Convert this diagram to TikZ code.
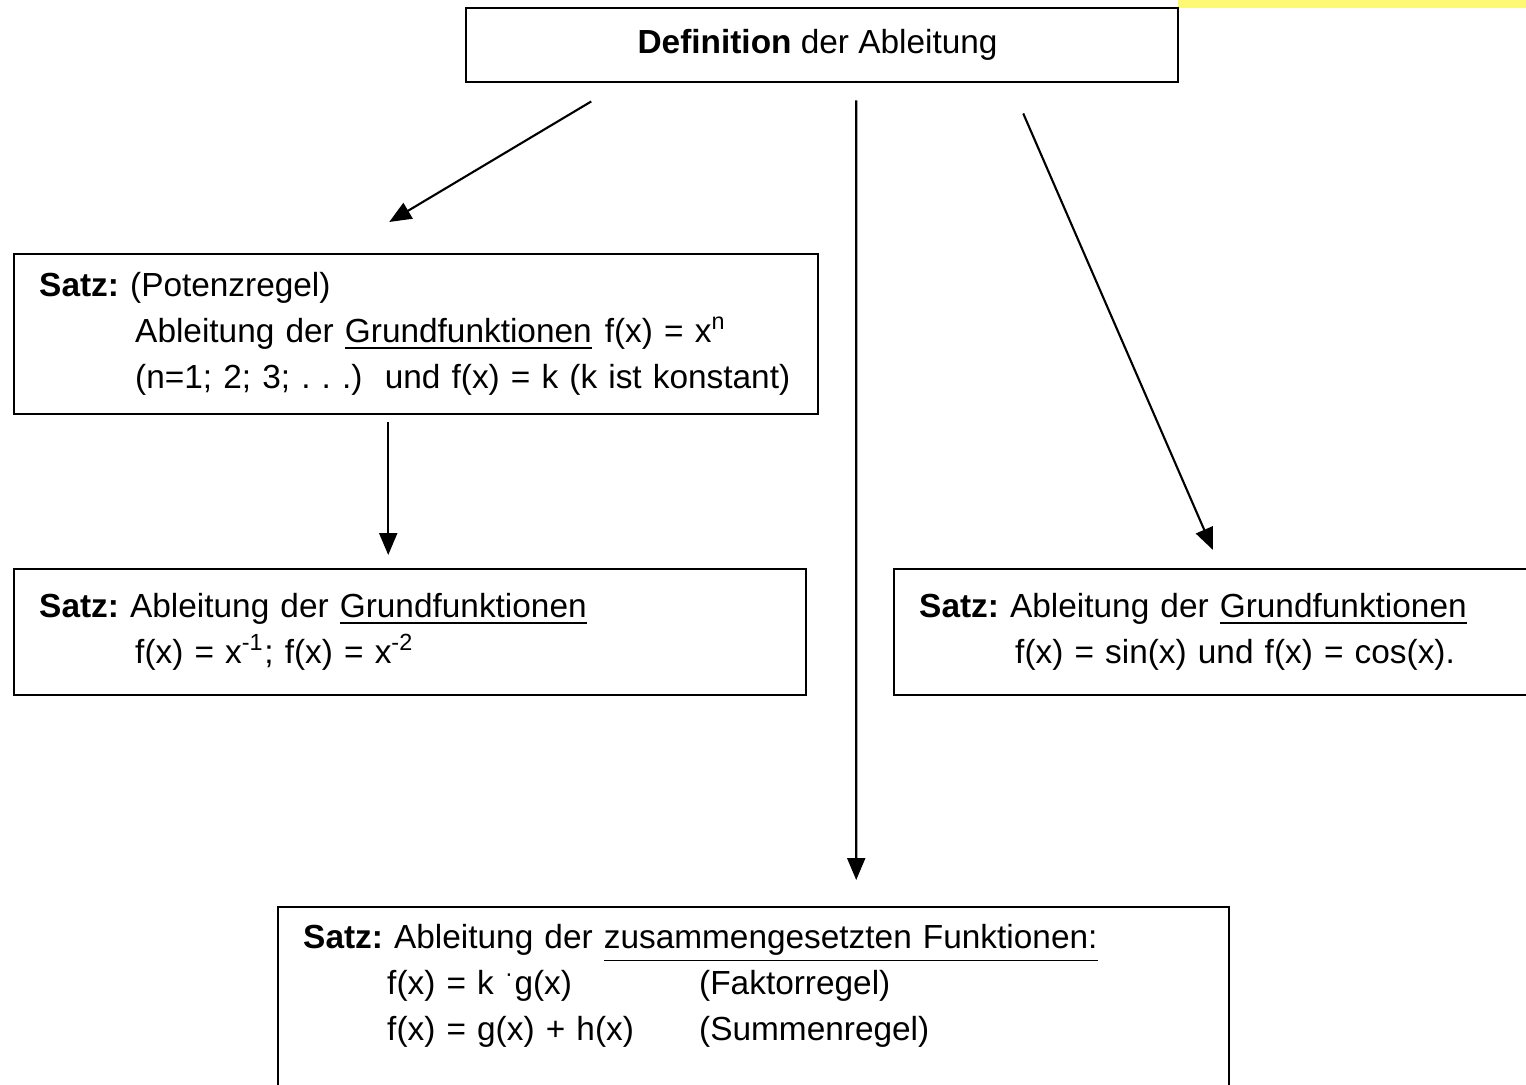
\documentclass[tikz,border=0pt]{standalone}
\usepackage{fontspec}
\setmainfont{Liberation Sans}
\usetikzlibrary{arrows.meta,positioning}

\newcommand{\einzug}{\hspace*{0.96cm}}

\begin{document}
\begin{tikzpicture}[
    box/.style={rectangle, draw, line width=0.7pt, anchor=north west, align=left,
        inner xsep=0.25cm, inner ysep=0pt,
        font=\fontsize{9.5pt}{13.1pt}\selectfont\frenchspacing},
    arr/.style={-{Triangle[length=0.22cm,width=0.18cm]}, line width=0.6pt}
]
    \path[use as bounding box] (0,0) rectangle (15.26,-10.85);
    \clip (0,0) rectangle (15.26,-10.85);
    \fill[yellow!55] (11.78,0) rectangle (15.26,-0.08);

    % Boxes
    \node (def) [box, align=center, inner xsep=0pt, minimum width=7.12cm, minimum height=0.74cm] at (4.65,-0.07) {
        \textbf{Definition} der Ableitung
    };

    \node (pot) [box, text width=7.54cm, minimum height=1.60cm] at (0.13,-2.53) {
        \textbf{Satz:} (Potenzregel)\\
        \einzug\mbox{Ableitung der \underline{Grundfunktionen}\hspace{0.13cm}f(x) = x\textsuperscript{n}}\\
        \einzug\mbox{(n=1; 2; 3; . . .)\ \ und f(x) = k (k ist konstant)}
    };

    \node (inv) [box, text width=7.42cm, minimum height=1.26cm] at (0.13,-5.68) {
        \textbf{Satz:} Ableitung der \underline{Grundfunktionen}\\
        \einzug f(x) = x\textsuperscript{-1}; f(x) = x\textsuperscript{-2}
    };

    \node (trig) [box, text width=6.5cm, minimum height=1.26cm] at (8.93,-5.68) {
        \textbf{Satz:} Ableitung der \underline{Grundfunktionen}\\
        \einzug f(x) = sin(x) und f(x) = cos(x).
    };

    \node (comp) [box, text width=9.01cm, inner ysep=0.17cm] at (2.77,-9.06) {
        \textbf{Satz:} Ableitung der \underline{zusammengesetzten Funktionen:}\\
        \hspace*{0.84cm}\makebox[3.12cm][l]{f(x) = k \textsuperscript{·}g(x)}(Faktorregel)\\
        \hspace*{0.84cm}\makebox[3.12cm][l]{f(x) = g(x) + h(x)}(Summenregel)\\
        \mbox{}\\
        \mbox{}
    };

    % Arrows
    \draw[arr] ([shift={(-2.31,-0.18)}]def.south) -- ([shift={(-0.27,0.31)}]pot.north);
    \draw[arr] ([shift={(-0.28,-0.07)}]pot.south) -- ([shift={(-0.22,0.13)}]inv.north);
    \draw[arr] ([shift={(0.34,-0.17)}]def.south) -- ([shift={(1.025,0.26)}]comp.north);
    \draw[arr] ([shift={(2.01,-0.30)}]def.south) -- ([shift={(3.20,0.18)}]trig.north west);
\end{tikzpicture}
\end{document}
